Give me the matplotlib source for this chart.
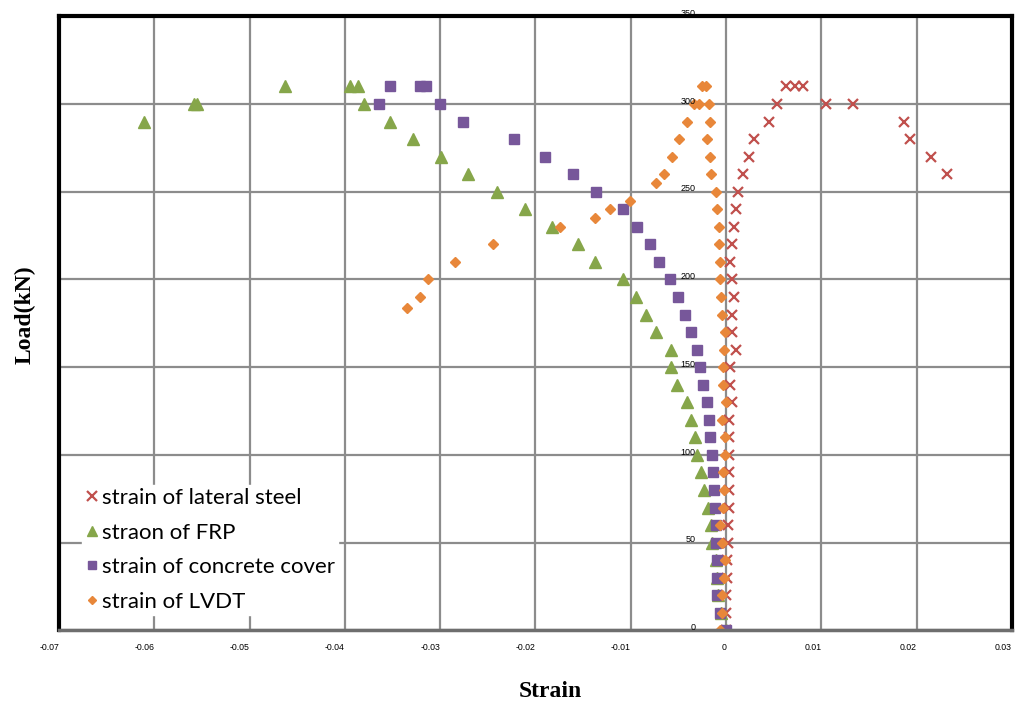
import matplotlib.pyplot as plt
import numpy as np

# load steps (kN) and strains
steel_load = [0, 10, 20, 30, 40, 50, 60, 70, 80, 90, 100, 110, 120, 130, 140, 150, 160,
              170, 180, 190, 200, 210, 220, 230, 240, 250, 260, 270, 280, 290, 300,
              310, 310, 310, 300, 300, 290, 280, 270, 260]
steel_strain = [0.0, 0.0, 0.0, 0.0001, 0.0001, 0.0002, 0.0002, 0.0003, 0.0003, 0.0003, 0.0003,
                0.0003, 0.00035, 0.0006, 0.0004, 0.0004, 0.001, 0.0006, 0.0006, 0.0008, 0.0006,
                0.0004, 0.0006, 0.0008, 0.001, 0.0013, 0.0018, 0.0024, 0.0029, 0.0045, 0.0053,
                0.0063, 0.0072, 0.0081, 0.0105, 0.0133, 0.0187, 0.0193, 0.0215, 0.0232]

frp_load = [0, 10, 20, 30, 40, 50, 60, 70, 80, 90, 100, 110, 120, 130, 140, 150, 160,
            170, 180, 190, 200, 210, 220, 230, 240, 250, 260, 270, 280, 290, 300,
            310, 310, 310, 300, 300, 290]
frp_strain = [0.0, -0.0005, -0.0008, -0.0009, -0.0011, -0.0015, -0.0016, -0.0019, -0.0023,
              -0.0026, -0.0030, -0.0033, -0.0037, -0.0041, -0.0051, -0.0058, -0.0058, -0.0074,
              -0.0084, -0.0094, -0.0108, -0.0137, -0.0155, -0.0183, -0.0211, -0.0240, -0.0271,
              -0.0299, -0.0328, -0.0353, -0.0380, -0.0386, -0.0395, -0.0463, -0.0555, -0.0558,
              -0.0611]

cover_load = [0, 10, 20, 30, 40, 50, 60, 70, 80, 90, 100, 110, 120, 130, 140, 150, 160,
              170, 180, 190, 200, 210, 220, 230, 240, 250, 260, 270, 280, 290, 300,
              310, 310, 310, 300]
cover_strain = [0.0, -0.0006, -0.0009, -0.0009, -0.0010, -0.0011, -0.0011, -0.0012, -0.0013,
                -0.0014, -0.0015, -0.00165, -0.00175, -0.0020, -0.0024, -0.0027, -0.0030,
                -0.0037, -0.0043, -0.0050, -0.0059, -0.0070, -0.0080, -0.0093, -0.0108, -0.0136,
                -0.0161, -0.0190, -0.0222, -0.0276, -0.0300, -0.0315, -0.0321, -0.0353, -0.0364]

lvdt_load = [0, 10, 20, 30, 40, 50, 60, 70, 80, 90, 100, 110, 120, 130, 140, 150, 160,
             170, 180, 190, 200, 210, 220, 230, 240, 250, 260, 270, 280, 290, 300,
             310, 310, 300, 300, 290, 280, 270, 260, 255, 245, 240, 235, 230, 220, 210,
             200, 190, 184]
lvdt_strain = [-0.0006, -0.0004, -0.0004, -0.0002, -0.0001, -0.0004, -0.0006, -0.00035,
               -0.00025, -0.00035, -0.00015, -0.0001, -0.0004, 0.0, -0.00035, -0.00035,
               -0.00025, -0.0001, -0.0004, -0.0005, -0.0006, -0.0006, -0.0007, -0.0007,
               -0.0009, -0.0011, -0.0016, -0.0017, -0.0020, -0.0017, -0.0018, -0.0021,
               -0.0025, -0.0028, -0.0034, -0.0041, -0.0049, -0.0057, -0.0065, -0.0074,
               -0.0101, -0.0122, -0.0137, -0.0174, -0.0245, -0.0284, -0.0313, -0.0321,
               -0.0335]

x_ticks = [-0.07, -0.06, -0.05, -0.04, -0.03, -0.02, -0.01, 0, 0.01, 0.02, 0.03]
x_labels = ['-0.07', '-0.06', '-0.05', '-0.04', '-0.03', '-0.02', '-0.01', '0', '0.01', '0.02', '0.03']
y_ticks = [0, 50, 100, 150, 200, 250, 300, 350]

fig = plt.figure(figsize=(10.17, 7.09), dpi=100)
ax = fig.add_axes([0.058, 0.111, 0.937, 0.866])

ax.plot(steel_strain, steel_load, 'x', color='#C0504D', ms=7.5, mew=1.6, ls='none',
        label='strain of lateral steel')
ax.plot(frp_strain, frp_load, '^', color='#86A64A', ms=8, ls='none', label='straon of FRP')
ax.plot(cover_strain, cover_load, 's', color='#77579A', ms=6.5, ls='none',
        label='strain of concrete cover')
ax.plot(lvdt_strain, lvdt_load, 'D', color='#E8873A', ms=4.8, ls='none', label='strain of LVDT')

ax.set_xlim(-0.07, 0.03)
ax.set_ylim(0, 350)
ax.set_xticks(x_ticks)
ax.set_xticklabels(x_labels, ha='right', fontsize=6.3, family='Liberation Sans')
ax.set_yticks(y_ticks)
ax.set_yticklabels([])
ax.tick_params(length=0, pad=9)
ax.grid(True, color='#8C8C8C', lw=1.6)
ax.set_axisbelow(True)

# load values are printed beside the zero-strain line
for v in y_ticks:
    ax.annotate(str(v), xy=(0, v), xytext=(-22, 2), textcoords='offset points',
                ha='right', va='center', fontsize=6.5, family='Liberation Sans')

for side in ['left', 'top', 'right']:
    ax.spines[side].set_color('black')
    ax.spines[side].set_linewidth(3)
ax.spines['bottom'].set_color('#6E6E6E')
ax.spines['bottom'].set_linewidth(2.5)

fig.text(0.025, 0.556, 'Load(kN)', rotation=90, ha='center', va='center',
         fontsize=17, fontweight='bold', family='Liberation Serif')
fig.text(0.541, 0.024, 'Strain', ha='center', va='center',
         fontsize=17, fontweight='bold', family='Liberation Serif')

leg = ax.legend(loc='lower left', bbox_to_anchor=(0.012, 0.007), frameon=True,
                fancybox=False, edgecolor='white', framealpha=1, borderpad=0.15,
                handlelength=0.6, handletextpad=0.15, labelspacing=0.65, markerscale=0.9,
                prop={'family': 'Lato', 'size': 16})

fig.savefig('out.png', dpi=100)
